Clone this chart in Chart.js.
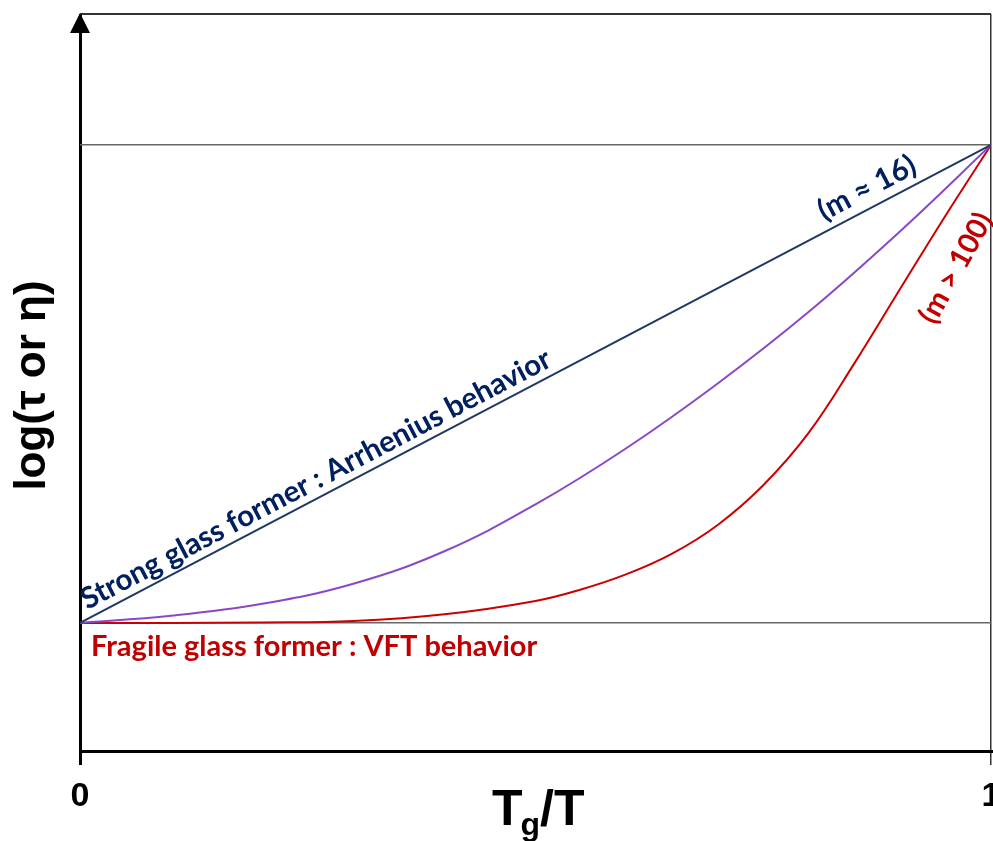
<!DOCTYPE html>
<html>
<head>
<meta charset="utf-8">
<script src="https://cdn.jsdelivr.net/npm/chart.js@4"></script>
<style>
  html, body { margin: 0; padding: 0; background: #fff; }
  #wrap { width: 993px; height: 841px; }
</style>
</head>
<body>
<div id="wrap"><canvas id="glassChart"></canvas></div>
<script>
// ===== DATA =====
// x = Tg/T, y = log(tau or eta) scaled so the two reference levels are 0 and 1
const xTicks = [0, 1];
const yLevels = [0, 1];
const strongX = [0, 1];
const strongY = [0, 1];
const midX = [0, 0.1, 0.2, 0.3, 0.4, 0.5, 0.6, 0.7, 0.8, 0.9, 1];
const midY = [0, 0.015, 0.040, 0.082, 0.150, 0.248, 0.366, 0.501, 0.651, 0.819, 1];
const fragileX = [0, 0.1, 0.2, 0.3, 0.4, 0.5, 0.55, 0.6, 0.65, 0.7, 0.75, 0.8, 0.85, 0.9, 0.95, 1];
const fragileY = [0, 0, 0.001, 0.004, 0.018, 0.046, 0.070, 0.102, 0.145, 0.205, 0.288, 0.398, 0.543, 0.698, 0.852, 1];

const pts = (xs, ys) => xs.map((x, i) => ({ x, y: ys[i] }));

const NAVY = '#1f3864';
const PURPLE = '#8a48c8';
const RED = '#cc0000';

// ===== TITLES + ANNOTATIONS =====
const decorations = {
  id: 'decorations',
  afterDraw(chart) {
    const { ctx, chartArea: a, scales: { x, y } } = chart;
    ctx.save();

    // top border
    ctx.strokeStyle = '#333';
    ctx.lineWidth = 2;
    ctx.beginPath();
    ctx.moveTo(a.left, a.top);
    ctx.lineTo(a.right, a.top);
    ctx.stroke();

    // arrow head on the y axis
    ctx.fillStyle = '#000';
    ctx.beginPath();
    ctx.moveTo(a.left, a.top - 1);
    ctx.lineTo(a.left - 10, a.top + 19);
    ctx.lineTo(a.left + 10, a.top + 19);
    ctx.closePath();
    ctx.fill();

    // y title
    ctx.fillStyle = '#000';
    ctx.font = 'bold 44px "Liberation Sans", Arial, sans-serif';
    ctx.textAlign = 'center';
    ctx.textBaseline = 'middle';
    ctx.save();
    ctx.translate(33, (a.top + a.bottom) / 2 + 3);
    ctx.rotate(-Math.PI / 2);
    ctx.fillText('log(τ or η)', 0, 0);
    ctx.restore();

    // x title: Tg/T
    ctx.textAlign = 'left';
    ctx.textBaseline = 'alphabetic';
    let tx = 492;
    const base = 825;
    ctx.font = 'bold 50px "Liberation Sans", Arial, sans-serif';
    ctx.fillText('T', tx, base);
    tx += ctx.measureText('T').width - 2;
    ctx.font = 'bold 32px "Liberation Sans", Arial, sans-serif';
    ctx.fillText('g', tx, base + 10);
    tx += ctx.measureText('g').width;
    ctx.font = 'bold 50px "Liberation Sans", Arial, sans-serif';
    ctx.fillText('/T', tx, base);

    // along the strong line
    const x0 = x.getPixelForValue(0), y0 = y.getPixelForValue(0);
    const x1 = x.getPixelForValue(1), y1 = y.getPixelForValue(1);
    const ang = Math.atan2(y1 - y0, x1 - x0);
    ctx.font = 'bold 29.5px Lato, "Open Sans", sans-serif';
    ctx.fillStyle = '#002060';
    ctx.save();
    ctx.translate(x.getPixelForValue(0.012), y.getPixelForValue(0.012));
    ctx.rotate(ang);
    ctx.fillText('Strong glass former : Arrhenius behavior', 0, -8);
    ctx.restore();

    ctx.save();
    ctx.translate(x.getPixelForValue(0.822), y.getPixelForValue(0.822));
    ctx.rotate(ang);
    ctx.fillText('(m ≈ 16)', 0, -10);
    ctx.restore();

    // fragile labels
    ctx.font = 'bold 29px Lato, "Open Sans", sans-serif';
    ctx.fillStyle = '#c00000';
    ctx.fillText('Fragile glass former : VFT behavior', 91, 656);

    ctx.save();
    ctx.translate(956, 268);
    ctx.rotate(-61 * Math.PI / 180);
    ctx.textAlign = 'center';
    ctx.textBaseline = 'middle';
    ctx.fillText('(m > 100)', 0, 0);
    ctx.restore();

    ctx.restore();
  }
};

new Chart(document.getElementById('glassChart'), {
  type: 'line',
  data: {
    datasets: [
      { data: pts(strongX, strongY), borderColor: NAVY, borderWidth: 2 },
      { data: pts(midX, midY), borderColor: PURPLE, borderWidth: 2, tension: 0.4 },
      { data: pts(fragileX, fragileY), borderColor: RED, borderWidth: 2, tension: 0.4 }
    ]
  },
  options: {
    responsive: true,
    maintainAspectRatio: false,
    animation: false,
    elements: { point: { radius: 0 } },
    layout: { padding: { top: 14, right: 2, left: 0, bottom: 0 } },
    plugins: { legend: { display: false }, tooltip: { enabled: false } },
    scales: {
      x: {
        type: 'linear',
        min: 0,
        max: 1,
        afterBuildTicks: s => { s.ticks = xTicks.map(v => ({ value: v })); },
        afterFit: s => { s.height = 90; s.paddingLeft = 0; s.paddingRight = 0; },
        ticks: {
          autoSkip: false,
          maxRotation: 0,
          padding: 11,
          color: '#000',
          font: { family: '"Liberation Sans", Arial, sans-serif', size: 34, weight: 'bold' },
          callback: v => String(v)
        },
        grid: {
          drawOnChartArea: true,
          tickLength: 14,
          color: c => (c.tick && c.tick.value === 0 ? '#000' : '#333'),
          lineWidth: c => (c.tick && c.tick.value === 0 ? 3 : 1.5)
        },
        border: { display: true, color: '#000', width: 3 }
      },
      y: {
        min: -0.268,
        max: 1.274,
        afterBuildTicks: s => { s.ticks = yLevels.map(v => ({ value: v })); },
        afterFit: s => { s.width = 80; },
        ticks: { display: false },
        grid: { color: '#666', lineWidth: 1.5, drawTicks: false },
        border: { display: false }
      }
    }
  },
  plugins: [decorations]
});
</script>
</body>
</html>
